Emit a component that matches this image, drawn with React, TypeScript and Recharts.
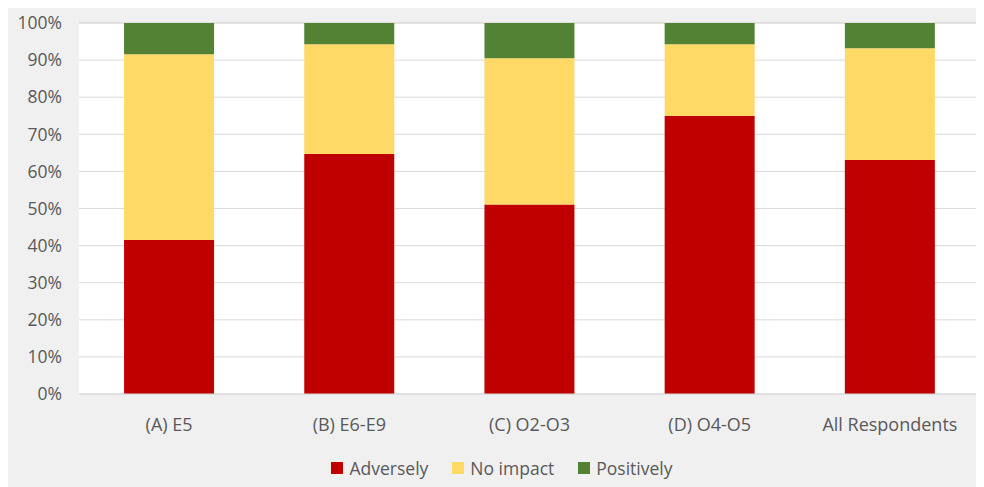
import { BarChart, Bar, XAxis, YAxis, CartesianGrid, Legend } from 'recharts'

const categories = ['(A) E5', '(B) E6-E9', '(C) O2-O3', '(D) O4-O5', 'All Respondents']
const adversely = [41.5, 64.7, 51.1, 74.9, 63.1]
const noImpact = [50.1, 29.6, 39.4, 19.4, 30.1]
const positively = [8.4, 5.7, 9.5, 5.7, 6.8]
const yTicks = [0, 10, 20, 30, 40, 50, 60, 70, 80, 90, 100]

const data = categories.map((name, i) => ({
  name,
  adversely: adversely[i],
  noImpact: noImpact[i],
  positively: positively[i],
}))

const font = '"Open Sans", sans-serif'
const textColor = '#595959'
const fontSize = 18

// legend with wider gaps between entries, like the Excel original
const renderLegend = (props: any) => {
  const { payload } = props
  return (
    <div
      style={{
        display: 'flex',
        justifyContent: 'center',
        gap: 24,
        paddingLeft: 16,
        fontSize: 17.5,
        fontFamily: font,
        color: textColor,
      }}
    >
      {(payload || []).map((entry: any) => (
        <div key={entry.value} style={{ display: 'flex', alignItems: 'center' }}>
          <span style={{ display: 'inline-block', width: 12, height: 12, background: entry.color, marginRight: 6 }} />
          <span>{entry.value}</span>
        </div>
      ))}
    </div>
  )
}

export default function App() {
  return (
    <div style={{ marginTop: -4, width: 976, height: 483, background: '#f0f0f0', fontFamily: font }}>
      <BarChart
        width={976}
        height={483}
        data={data}
        barCategoryGap="25%"
        margin={{ top: 19, right: 4, bottom: 0, left: 0 }}
      >
        <CartesianGrid vertical={false} stroke="#d9d9d9" fill="#ffffff" />
        <XAxis
          dataKey="name"
          height={62}
          tickLine={false}
          axisLine={{ stroke: '#d9d9d9' }}
          tickMargin={18}
          tick={{ fill: textColor, fontSize, fontFamily: font }}
        />
        <YAxis
          width={71}
          domain={[0, 100]}
          ticks={yTicks}
          interval={0}
          axisLine={false}
          tickLine={false}
          tickSize={0}
          tickMargin={17}
          tickFormatter={(v: number) => `${v}%`}
          tick={{ fill: textColor, fontSize: 17.5, fontFamily: font }}
        />
        <Legend verticalAlign="bottom" height={31} content={renderLegend} />
        <Bar dataKey="adversely" name="Adversely" stackId="a" fill="#c00000" isAnimationActive={false} />
        <Bar dataKey="noImpact" name="No impact" stackId="a" fill="#ffd966" isAnimationActive={false} />
        <Bar dataKey="positively" name="Positively" stackId="a" fill="#548235" isAnimationActive={false} />
      </BarChart>
    </div>
  )
}
